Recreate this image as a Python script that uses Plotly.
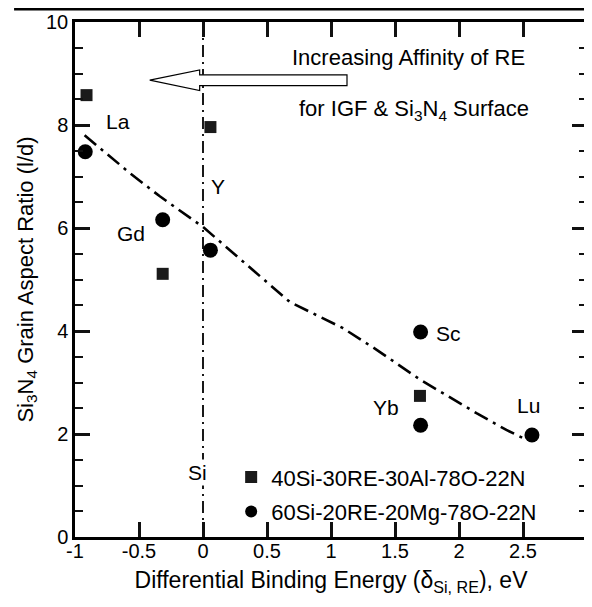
import plotly.graph_objects as go

# 40Si-30RE-30Al-78O-22N  (squares)
al_re = ["La", "Gd", "Y", "Yb"]
al_delta = [-0.91, -0.315, 0.058, 1.695]
al_ratio = [8.58, 5.11, 7.96, 2.74]

# 60Si-20RE-20Mg-78O-22N  (circles)
mg_re = ["La", "Gd", "Y", "Sc", "Yb", "Lu"]
mg_delta = [-0.92, -0.315, 0.058, 1.70, 1.70, 2.57]
mg_ratio = [7.48, 6.16, 5.57, 3.98, 2.17, 1.98]

# dash-dot trend line
trend_delta = [-0.925, -0.573, -0.34, 0.0, 0.68, 1.09, 1.36, 1.70, 2.14, 2.37, 2.50]
trend_ratio = [7.80, 7.07, 6.62, 6.02, 4.56, 4.06, 3.63, 3.05, 2.40, 2.08, 1.92]

# Si reference
si_delta = 0.0

x_ticks = [-1, -0.5, 0, 0.5, 1, 1.5, 2, 2.5, 3]
x_ticktext = ["-1", "-0.5", "0", "0.5", "1", "1.5", "2", "2.5", "3"]
y_ticks = [0, 2, 4, 6, 8, 10]

# element labels (text, x, y)
labels = [
    ("La", -0.666, 8.06),
    ("Y", 0.115, 6.80),
    ("Gd", -0.565, 5.90),
    ("Sc", 1.92, 3.96),
    ("Yb", 1.43, 2.52),
    ("Lu", 2.54, 2.56),
]

# hollow arrow geometry (data units)
arrow_tip, arrow_neck, arrow_tail = -0.416, -0.026, 1.125
arrow_mid, arrow_head_h, arrow_shaft_h = 8.87, 0.20, 0.105

FONT = "Liberation Sans, Arial, Helvetica, sans-serif"

fig = go.Figure()

fig.add_trace(go.Scatter(
    x=trend_delta, y=trend_ratio, mode="lines",
    line=dict(color="black", width=2.6, dash="15px,6px,3px,6px"),
    showlegend=False, hoverinfo="skip",
))

fig.add_trace(go.Scatter(
    x=al_delta, y=al_ratio, mode="markers", name="40Si-30RE-30Al-78O-22N",
    text=al_re, legendgroup="a",
    marker=dict(symbol="square", size=12, color="#1a1a1a"),
))
fig.add_trace(go.Scatter(
    x=mg_delta, y=mg_ratio, mode="markers", name="60Si-20RE-20Mg-78O-22N",
    text=mg_re, legendgroup="b",
    marker=dict(symbol="circle", size=15, color="black"),
))

# invisible trace so the top / right axes get drawn
fig.add_trace(go.Scatter(
    x=[None], y=[None], xaxis="x2", yaxis="y2", mode="markers",
    showlegend=False, hoverinfo="skip",
))

# vertical Si line
fig.add_shape(type="line", x0=si_delta, x1=si_delta, y0=0, y1=10, xref="x", yref="y",
              line=dict(color="black", width=1.8, dash="12px,5px,2px,5px"), layer="below")

# hollow arrow pointing left
a_path = (
    f"M {arrow_tip},{arrow_mid} "
    f"L {arrow_neck},{arrow_mid + arrow_head_h} "
    f"L {arrow_neck},{arrow_mid + arrow_shaft_h} "
    f"L {arrow_tail},{arrow_mid + arrow_shaft_h} "
    f"L {arrow_tail},{arrow_mid - arrow_shaft_h} "
    f"L {arrow_neck},{arrow_mid - arrow_shaft_h} "
    f"L {arrow_neck},{arrow_mid - arrow_head_h} Z"
)
fig.add_shape(type="path", path=a_path, xref="x", yref="y",
              fillcolor="white", line=dict(color="black", width=1.2), layer="above")

# page frame lines (top and right)
fig.add_shape(type="line", xref="paper", yref="paper", x0=-0.119, x1=1.02, y0=1.0252, y1=1.0252,
              line=dict(color="black", width=3))
fig.add_shape(type="line", xref="paper", yref="paper", x0=1.0075, x1=1.0075, y0=1.0252, y1=-0.14,
              line=dict(color="black", width=2))

for txt, lx, ly in labels:
    fig.add_annotation(x=lx, y=ly, text=txt, showarrow=False,
                       font=dict(family=FONT, size=21, color="black"))

fig.add_annotation(x=si_delta - 0.043, y=1.26, text="Si", showarrow=False, bgcolor="white",
                   font=dict(family=FONT, size=21, color="black"))

fig.add_annotation(x=2.53, y=9.32, text="Increasing Affinity of RE", showarrow=False,
                   xanchor="right", font=dict(family=FONT, size=22, color="black"))
fig.add_annotation(x=2.56, y=8.30, text="for IGF &amp; Si<sub>3</sub>N<sub>4</sub> Surface",
                   showarrow=False, xanchor="right", font=dict(family=FONT, size=22, color="black"))

x_style = dict(
    range=[-1, 3], tickmode="array", tickvals=x_ticks,
    showline=True, linecolor="black", linewidth=2.5,
    ticks="inside", tickcolor="#111111", tickwidth=2.5, ticklen=15,
    showgrid=False, zeroline=False, automargin=False,
)
y_style = dict(
    range=[0, 10], tickmode="array", tickvals=y_ticks,
    showline=True, linecolor="black", linewidth=2.5,
    ticks="inside", tickcolor="#111111", tickwidth=2.5, ticklen=15,
    minor=dict(dtick=0.5, ticks="inside", ticklen=8, tickwidth=2, tickcolor="#111111"),
    showgrid=False, automargin=False,
)

fig.update_layout(
    width=584, height=599,
    margin=dict(l=67, r=5, t=14, b=70),
    plot_bgcolor="white", paper_bgcolor="white",
    font=dict(family=FONT, color="black"),
    xaxis=dict(
        ticktext=x_ticktext, ticklabelstandoff=-6,
        tickfont=dict(family=FONT, size=20, color="black"),
        title=dict(text="Differential Binding Energy (δ<sub>Si, RE</sub>), eV",
                   font=dict(family=FONT, size=23, color="black"), standoff=12),
        **x_style,
    ),
    yaxis=dict(
        tickfont=dict(family=FONT, size=20, color="black"),
        title=dict(text="Si<sub>3</sub>N<sub>4</sub> Grain Aspect Ratio (l/d)",
                   font=dict(family=FONT, size=22, color="black"), standoff=7),
        **y_style,
    ),
    xaxis2=dict(overlaying="x", side="top", anchor="y2", matches="x", showticklabels=False, **x_style),
    yaxis2=dict(overlaying="y", side="right", anchor="x2", matches="y", showticklabels=False, **y_style),
    legend=dict(
        x=0.305, y=0.157, xanchor="left", yanchor="top",
        bgcolor="rgba(0,0,0,0)", tracegroupgap=3,
        font=dict(family=FONT, size=22, color="black"),
        itemsizing="constant",
    ),
)

fig.write_html("out.html")
